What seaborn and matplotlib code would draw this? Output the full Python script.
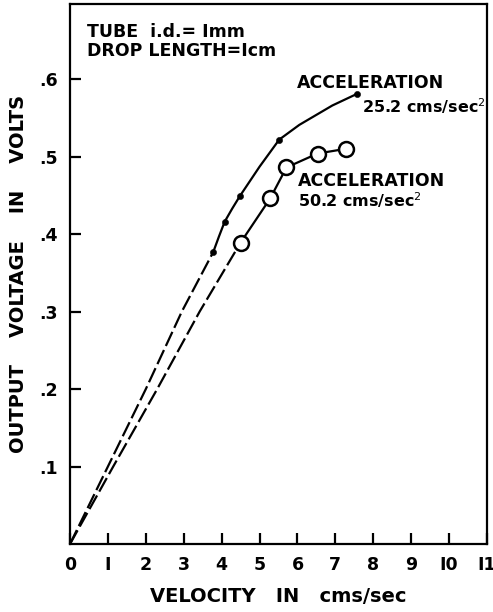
import matplotlib
matplotlib.use("Agg")
import matplotlib.pyplot as plt
import seaborn as sns
import pandas as pd

# ---- data ----
# acceleration 25.2 cms/sec^2 : curve through small filled dots
acc25_x = [3.78, 3.93, 4.08, 4.28, 4.48, 5.0, 5.52, 6.05, 6.92, 7.57]
acc25_y = [0.377, 0.397, 0.416, 0.433, 0.449, 0.487, 0.522, 0.541, 0.566, 0.581]
acc25_marker = [True, False, True, False, True, False, True, False, False, True]
# acceleration 50.2 cms/sec^2 : open circles
acc50_x = [4.50, 5.28, 5.71, 6.53, 7.27]
acc50_y = [0.389, 0.446, 0.486, 0.504, 0.510]
# dashed extrapolations to the origin
ext25_x = [0.0, 1.0, 2.0, 2.95, 3.78]
ext25_y = [0.0, 0.1, 0.2, 0.3, 0.377]
ext50_x = [0.0, 1.14, 2.3, 3.42, 4.50]
ext50_y = [0.0, 0.1, 0.2, 0.3, 0.389]

x_ticks = list(range(0, 12))
x_tick_labels = ["0", "I", "2", "3", "4", "5", "6", "7", "8", "9", "I0", "I1"]
y_ticks = [0.1, 0.2, 0.3, 0.4, 0.5, 0.6]
y_tick_labels = [".1", ".2", ".3", ".4", ".5", ".6"]

sns.set_style("ticks")
plt.rcParams["font.family"] = ["DejaVu Sans"]
plt.rcParams["text.color"] = "black"
plt.rcParams["axes.labelcolor"] = "black"
plt.rcParams["xtick.color"] = "black"
plt.rcParams["ytick.color"] = "black"

fig = plt.figure(figsize=(4.93, 6.12), dpi=100)
ax = fig.add_axes([70 / 493, 1 - 544 / 612, 417 / 493, 540 / 612])

lw = 1.6
dash = (0, (7, 2))
df25 = pd.DataFrame({"x": acc25_x, "y": acc25_y, "m": acc25_marker})
df50 = pd.DataFrame({"x": acc50_x, "y": acc50_y})
e25 = pd.DataFrame({"x": ext25_x, "y": ext25_y})
e50 = pd.DataFrame({"x": ext50_x, "y": ext50_y})

sns.lineplot(data=e25, x="x", y="y", ax=ax, color="black", lw=lw, sort=False,
             estimator=None, linestyle=dash)
sns.lineplot(data=e50, x="x", y="y", ax=ax, color="black", lw=lw, sort=False,
             estimator=None, linestyle=dash)
sns.lineplot(data=df25, x="x", y="y", ax=ax, color="black", lw=lw, sort=False,
             estimator=None)
sns.lineplot(data=df50, x="x", y="y", ax=ax, color="black", lw=lw, sort=False,
             estimator=None)
sns.scatterplot(data=df25[df25["m"]], x="x", y="y", ax=ax, color="black", s=20,
                edgecolor="black", zorder=5)
sns.scatterplot(data=df50, x="x", y="y", ax=ax, facecolor="white", s=115,
                edgecolor="black", linewidth=1.8, zorder=5)

ax.set_xlim(0, 11)
ax.set_ylim(0, 0.697)
ax.set_xticks(x_ticks)
ax.set_xticklabels(x_tick_labels, fontsize=12.5, fontweight="bold")
ax.set_yticks(y_ticks)
ax.set_yticklabels(y_tick_labels, fontsize=12.5, fontweight="bold")
ax.tick_params(direction="in", length=8, width=1.6, pad=9)
for s in ax.spines.values():
    s.set_linewidth(1.6)
    s.set_color("black")

ax.set_xlabel("VELOCITY   IN   cms/sec", fontsize=14, fontweight="bold",
              labelpad=9)
ax.set_ylabel("OUTPUT    VOLTAGE    IN    VOLTS", fontsize=14, fontweight="bold",
              labelpad=8)

txt = dict(fontsize=12.5, fontweight="bold", ha="left", va="baseline")
val = dict(fontsize=11.5, fontweight="bold", ha="left", va="baseline")
ax.text(0.041, 0.939, "TUBE  i.d.= Imm", transform=ax.transAxes, **txt)
ax.text(0.041, 0.904, "DROP LENGTH=Icm", transform=ax.transAxes, **txt)
ax.text(5.99, 0.5886, "ACCELERATION", **txt)
ax.text(7.70, 0.5566, "25.2 cms/sec$^2$", **val)
ax.text(6.01, 0.4618, "ACCELERATION", **txt)
ax.text(6.01, 0.4356, "50.2 cms/sec$^2$", **val)

fig.savefig("out.png", dpi=100)
